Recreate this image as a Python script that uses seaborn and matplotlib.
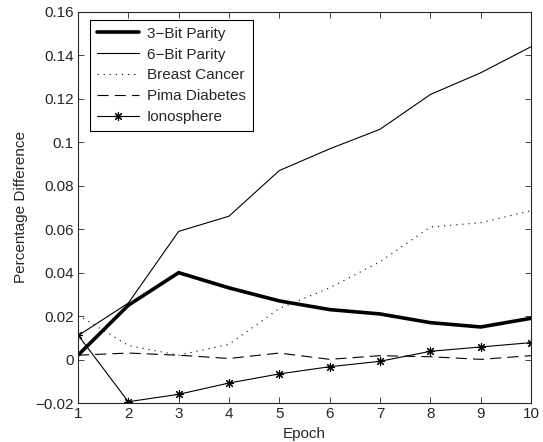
import matplotlib
matplotlib.use("Agg")
import matplotlib.pyplot as plt
import seaborn as sns
import pandas as pd

epochs = [1, 2, 3, 4, 5, 6, 7, 8, 9, 10]
bit3 = [0.002, 0.025, 0.040, 0.033, 0.027, 0.023, 0.021, 0.017, 0.015, 0.019]
bit6 = [0.011, 0.026, 0.059, 0.066, 0.087, 0.097, 0.106, 0.122, 0.132, 0.144]
breast = [0.0205, 0.0065, 0.002, 0.007, 0.0235, 0.033, 0.045, 0.061, 0.063, 0.0685]
pima = [0.002, 0.003, 0.002, 0.0005, 0.003, 0.0001, 0.0018, 0.0013, 0.0001, 0.0018]
iono = [0.0113, -0.0194, -0.016, -0.0108, -0.0066, -0.0033, -0.0008, 0.0038, 0.0058, 0.0078]

sns.set_style("ticks")
plt.rcParams["font.family"] = ["Liberation Sans", "DejaVu Sans"]
plt.rcParams["font.size"] = 11
plt.rcParams["xtick.direction"] = "in"
plt.rcParams["ytick.direction"] = "in"

fig = plt.figure(figsize=(5.43, 4.42), dpi=100)
ax = fig.add_axes([0.1436, 0.0882, 0.8343, 0.8847])

series = [
    ("3\u2212Bit Parity", bit3, dict(lw=2.6, ls="-", marker="")),
    ("6\u2212Bit Parity", bit6, dict(lw=0.8, ls="-", marker="")),
    ("Breast Cancer", breast, dict(lw=0.8, ls=(0, (1, 4.5)), marker="")),
    ("Pima Diabetes", pima, dict(lw=0.8, ls=(0, (10, 5.5)), marker="")),
    ("Ionosphere", iono, dict(lw=0.8, ls="-", marker=(8, 2, 0))),
]
for name, vals, style in series:
    df = pd.DataFrame({"Epoch": epochs, "v": vals})
    sns.lineplot(data=df, x="Epoch", y="v", ax=ax, color="black", label=name)
    line = ax.lines[-1]
    line.set_linewidth(style["lw"])
    line.set_linestyle(style["ls"])
    line.set_marker(style["marker"])
    line.set_markersize(6.5)
    line.set_markeredgewidth(0.8)
    line.set_markeredgecolor("black")
    line.set_markerfacecolor("black")

ax.set_xlim(1, 10)
ax.set_ylim(-0.02, 0.16)
ax.set_xticks(epochs)
ax.set_yticks([-0.02, 0, 0.02, 0.04, 0.06, 0.08, 0.1, 0.12, 0.14, 0.16])
ax.set_yticklabels(["\u22120.02", "0", "0.02", "0.04", "0.06", "0.08", "0.1", "0.12", "0.14", "0.16"])
ax.tick_params(top=True, right=True, length=4.5, width=0.6, labelsize=11, pad=3)
for s in ax.spines.values():
    s.set_linewidth(0.8)
ax.set_xlabel("Epoch", labelpad=4)
ax.set_ylabel("Percentage Difference", labelpad=5)

leg = ax.legend(handles=ax.lines, labels=[s[0] for s in series], loc="upper left",
                fancybox=False, edgecolor="black", framealpha=1, fontsize=11,
                handlelength=2.8, handletextpad=0.5, borderpad=0.45, labelspacing=0.45,
                borderaxespad=0, bbox_to_anchor=(0.026, 0.98))
leg.get_frame().set_linewidth(0.8)

fig.savefig("out.png", dpi=100)
